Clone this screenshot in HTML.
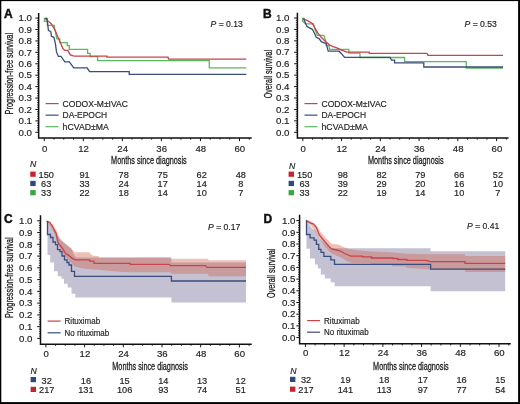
<!DOCTYPE html>
<html><head><meta charset="utf-8"><style>
html,body{margin:0;padding:0;background:#fff;}
svg{display:block;will-change:transform;font-family:'Liberation Sans', sans-serif;}
</style></head><body>
<svg width="520" height="404" viewBox="0 0 520 404">
<rect x="0" y="0" width="520" height="404" fill="#fff"/>
<line x1="35.35" y1="132.30" x2="38.65" y2="132.30" stroke="#111" stroke-width="1"/>
<line x1="37.05" y1="130.02" x2="38.65" y2="130.02" stroke="#111" stroke-width="0.8"/>
<line x1="37.05" y1="127.73" x2="38.65" y2="127.73" stroke="#111" stroke-width="0.8"/>
<line x1="37.05" y1="125.45" x2="38.65" y2="125.45" stroke="#111" stroke-width="0.8"/>
<line x1="37.05" y1="123.16" x2="38.65" y2="123.16" stroke="#111" stroke-width="0.8"/>
<line x1="35.35" y1="120.88" x2="38.65" y2="120.88" stroke="#111" stroke-width="1"/>
<line x1="37.05" y1="118.60" x2="38.65" y2="118.60" stroke="#111" stroke-width="0.8"/>
<line x1="37.05" y1="116.31" x2="38.65" y2="116.31" stroke="#111" stroke-width="0.8"/>
<line x1="37.05" y1="114.03" x2="38.65" y2="114.03" stroke="#111" stroke-width="0.8"/>
<line x1="37.05" y1="111.74" x2="38.65" y2="111.74" stroke="#111" stroke-width="0.8"/>
<line x1="35.35" y1="109.46" x2="38.65" y2="109.46" stroke="#111" stroke-width="1"/>
<line x1="37.05" y1="107.18" x2="38.65" y2="107.18" stroke="#111" stroke-width="0.8"/>
<line x1="37.05" y1="104.89" x2="38.65" y2="104.89" stroke="#111" stroke-width="0.8"/>
<line x1="37.05" y1="102.61" x2="38.65" y2="102.61" stroke="#111" stroke-width="0.8"/>
<line x1="37.05" y1="100.32" x2="38.65" y2="100.32" stroke="#111" stroke-width="0.8"/>
<line x1="35.35" y1="98.04" x2="38.65" y2="98.04" stroke="#111" stroke-width="1"/>
<line x1="37.05" y1="95.76" x2="38.65" y2="95.76" stroke="#111" stroke-width="0.8"/>
<line x1="37.05" y1="93.47" x2="38.65" y2="93.47" stroke="#111" stroke-width="0.8"/>
<line x1="37.05" y1="91.19" x2="38.65" y2="91.19" stroke="#111" stroke-width="0.8"/>
<line x1="37.05" y1="88.90" x2="38.65" y2="88.90" stroke="#111" stroke-width="0.8"/>
<line x1="35.35" y1="86.62" x2="38.65" y2="86.62" stroke="#111" stroke-width="1"/>
<line x1="37.05" y1="84.34" x2="38.65" y2="84.34" stroke="#111" stroke-width="0.8"/>
<line x1="37.05" y1="82.05" x2="38.65" y2="82.05" stroke="#111" stroke-width="0.8"/>
<line x1="37.05" y1="79.77" x2="38.65" y2="79.77" stroke="#111" stroke-width="0.8"/>
<line x1="37.05" y1="77.48" x2="38.65" y2="77.48" stroke="#111" stroke-width="0.8"/>
<line x1="35.35" y1="75.20" x2="38.65" y2="75.20" stroke="#111" stroke-width="1"/>
<line x1="37.05" y1="72.92" x2="38.65" y2="72.92" stroke="#111" stroke-width="0.8"/>
<line x1="37.05" y1="70.63" x2="38.65" y2="70.63" stroke="#111" stroke-width="0.8"/>
<line x1="37.05" y1="68.35" x2="38.65" y2="68.35" stroke="#111" stroke-width="0.8"/>
<line x1="37.05" y1="66.06" x2="38.65" y2="66.06" stroke="#111" stroke-width="0.8"/>
<line x1="35.35" y1="63.78" x2="38.65" y2="63.78" stroke="#111" stroke-width="1"/>
<line x1="37.05" y1="61.50" x2="38.65" y2="61.50" stroke="#111" stroke-width="0.8"/>
<line x1="37.05" y1="59.21" x2="38.65" y2="59.21" stroke="#111" stroke-width="0.8"/>
<line x1="37.05" y1="56.93" x2="38.65" y2="56.93" stroke="#111" stroke-width="0.8"/>
<line x1="37.05" y1="54.64" x2="38.65" y2="54.64" stroke="#111" stroke-width="0.8"/>
<line x1="35.35" y1="52.36" x2="38.65" y2="52.36" stroke="#111" stroke-width="1"/>
<line x1="37.05" y1="50.08" x2="38.65" y2="50.08" stroke="#111" stroke-width="0.8"/>
<line x1="37.05" y1="47.79" x2="38.65" y2="47.79" stroke="#111" stroke-width="0.8"/>
<line x1="37.05" y1="45.51" x2="38.65" y2="45.51" stroke="#111" stroke-width="0.8"/>
<line x1="37.05" y1="43.22" x2="38.65" y2="43.22" stroke="#111" stroke-width="0.8"/>
<line x1="35.35" y1="40.94" x2="38.65" y2="40.94" stroke="#111" stroke-width="1"/>
<line x1="37.05" y1="38.66" x2="38.65" y2="38.66" stroke="#111" stroke-width="0.8"/>
<line x1="37.05" y1="36.37" x2="38.65" y2="36.37" stroke="#111" stroke-width="0.8"/>
<line x1="37.05" y1="34.09" x2="38.65" y2="34.09" stroke="#111" stroke-width="0.8"/>
<line x1="37.05" y1="31.80" x2="38.65" y2="31.80" stroke="#111" stroke-width="0.8"/>
<line x1="35.35" y1="29.52" x2="38.65" y2="29.52" stroke="#111" stroke-width="1"/>
<line x1="37.05" y1="27.24" x2="38.65" y2="27.24" stroke="#111" stroke-width="0.8"/>
<line x1="37.05" y1="24.95" x2="38.65" y2="24.95" stroke="#111" stroke-width="0.8"/>
<line x1="37.05" y1="22.67" x2="38.65" y2="22.67" stroke="#111" stroke-width="0.8"/>
<line x1="37.05" y1="20.38" x2="38.65" y2="20.38" stroke="#111" stroke-width="0.8"/>
<line x1="35.35" y1="18.10" x2="38.65" y2="18.10" stroke="#111" stroke-width="1"/>
<text x="32.00" y="135.50" font-size="9.7" text-anchor="end" fill="#222" stroke="#2a2a2a" stroke-width="0.18">0.0</text>
<text x="32.00" y="124.08" font-size="9.7" text-anchor="end" fill="#222" stroke="#2a2a2a" stroke-width="0.18">0.1</text>
<text x="32.00" y="112.66" font-size="9.7" text-anchor="end" fill="#222" stroke="#2a2a2a" stroke-width="0.18">0.2</text>
<text x="32.00" y="101.24" font-size="9.7" text-anchor="end" fill="#222" stroke="#2a2a2a" stroke-width="0.18">0.3</text>
<text x="32.00" y="89.82" font-size="9.7" text-anchor="end" fill="#222" stroke="#2a2a2a" stroke-width="0.18">0.4</text>
<text x="32.00" y="78.40" font-size="9.7" text-anchor="end" fill="#222" stroke="#2a2a2a" stroke-width="0.18">0.5</text>
<text x="32.00" y="66.98" font-size="9.7" text-anchor="end" fill="#222" stroke="#2a2a2a" stroke-width="0.18">0.6</text>
<text x="32.00" y="55.56" font-size="9.7" text-anchor="end" fill="#222" stroke="#2a2a2a" stroke-width="0.18">0.7</text>
<text x="32.00" y="44.14" font-size="9.7" text-anchor="end" fill="#222" stroke="#2a2a2a" stroke-width="0.18">0.8</text>
<text x="32.00" y="32.72" font-size="9.7" text-anchor="end" fill="#222" stroke="#2a2a2a" stroke-width="0.18">0.9</text>
<text x="32.00" y="21.30" font-size="9.7" text-anchor="end" fill="#222" stroke="#2a2a2a" stroke-width="0.18">1.0</text>
<line x1="44.25" y1="138.0" x2="44.25" y2="141.10" stroke="#111" stroke-width="1"/>
<text x="44.55" y="151.50" font-size="9.6" text-anchor="middle" fill="#222" stroke="#2a2a2a" stroke-width="0.18">0</text>
<line x1="54.01" y1="138.0" x2="54.01" y2="139.70" stroke="#111" stroke-width="0.9"/>
<line x1="63.77" y1="138.0" x2="63.77" y2="139.70" stroke="#111" stroke-width="0.9"/>
<line x1="73.54" y1="138.0" x2="73.54" y2="139.70" stroke="#111" stroke-width="0.9"/>
<line x1="83.30" y1="138.0" x2="83.30" y2="141.10" stroke="#111" stroke-width="1"/>
<text x="83.60" y="151.50" font-size="9.6" text-anchor="middle" fill="#222" stroke="#2a2a2a" stroke-width="0.18">12</text>
<line x1="93.06" y1="138.0" x2="93.06" y2="139.70" stroke="#111" stroke-width="0.9"/>
<line x1="102.82" y1="138.0" x2="102.82" y2="139.70" stroke="#111" stroke-width="0.9"/>
<line x1="112.58" y1="138.0" x2="112.58" y2="139.70" stroke="#111" stroke-width="0.9"/>
<line x1="122.35" y1="138.0" x2="122.35" y2="141.10" stroke="#111" stroke-width="1"/>
<text x="122.65" y="151.50" font-size="9.6" text-anchor="middle" fill="#222" stroke="#2a2a2a" stroke-width="0.18">24</text>
<line x1="132.11" y1="138.0" x2="132.11" y2="139.70" stroke="#111" stroke-width="0.9"/>
<line x1="141.87" y1="138.0" x2="141.87" y2="139.70" stroke="#111" stroke-width="0.9"/>
<line x1="151.63" y1="138.0" x2="151.63" y2="139.70" stroke="#111" stroke-width="0.9"/>
<line x1="161.39" y1="138.0" x2="161.39" y2="141.10" stroke="#111" stroke-width="1"/>
<text x="161.69" y="151.50" font-size="9.6" text-anchor="middle" fill="#222" stroke="#2a2a2a" stroke-width="0.18">36</text>
<line x1="171.16" y1="138.0" x2="171.16" y2="139.70" stroke="#111" stroke-width="0.9"/>
<line x1="180.92" y1="138.0" x2="180.92" y2="139.70" stroke="#111" stroke-width="0.9"/>
<line x1="190.68" y1="138.0" x2="190.68" y2="139.70" stroke="#111" stroke-width="0.9"/>
<line x1="200.44" y1="138.0" x2="200.44" y2="141.10" stroke="#111" stroke-width="1"/>
<text x="200.74" y="151.50" font-size="9.6" text-anchor="middle" fill="#222" stroke="#2a2a2a" stroke-width="0.18">48</text>
<line x1="210.20" y1="138.0" x2="210.20" y2="139.70" stroke="#111" stroke-width="0.9"/>
<line x1="219.97" y1="138.0" x2="219.97" y2="139.70" stroke="#111" stroke-width="0.9"/>
<line x1="229.73" y1="138.0" x2="229.73" y2="139.70" stroke="#111" stroke-width="0.9"/>
<line x1="239.49" y1="138.0" x2="239.49" y2="141.10" stroke="#111" stroke-width="1"/>
<text x="239.79" y="151.50" font-size="9.6" text-anchor="middle" fill="#222" stroke="#2a2a2a" stroke-width="0.18">60</text>
<line x1="249.25" y1="138.0" x2="249.25" y2="139.70" stroke="#111" stroke-width="0.9"/>
<path d="M38.65,13 V138.0 H251.7" fill="none" stroke="#111" stroke-width="1.5"/>
<text x="4.1" y="17.6" font-size="12" font-weight="bold" fill="#111" stroke="#111" stroke-width="0.45">A</text>
<text x="210.5" y="26.6" font-size="8.7" textLength="32.3" lengthAdjust="spacingAndGlyphs" fill="#222" stroke="#2a2a2a" stroke-width="0.18"><tspan font-style="italic">P</tspan> <tspan fill="#555" stroke="#666" stroke-width="0.5">=</tspan> 0.13</text>
<text x="111.1" y="163.9" font-size="11" textLength="75.6" lengthAdjust="spacingAndGlyphs" fill="#222" stroke="#1a1a1a" stroke-width="0.3">Months since diagnosis</text>
<text transform="translate(13,114.4) rotate(-90)" x="0" y="0" font-size="10.8" textLength="81.5" lengthAdjust="spacingAndGlyphs" fill="#222" stroke="#1a1a1a" stroke-width="0.3">Progression-free survival</text>
<polyline points="46.50,18.50 44.50,18.50 44.50,21.40 47.40,21.40 47.40,25.40 54.40,25.40 54.40,27.40 56.90,38.80 59.80,38.80 59.80,42.70 67.20,42.70 67.20,45.70 69.30,45.70 69.30,49.40 87.60,49.40 87.60,53.40 90.10,53.40 90.10,56.60 97.70,56.60 97.70,60.60 209.30,60.60 209.30,67.80 246.30,67.80" fill="none" stroke="#5cb85c" stroke-width="1.3" stroke-linejoin="miter"/>
<polyline points="45.50,18.50 47.40,20.40 51.40,23.90 54.90,29.80 59.30,40.20 62.90,48.50 64.90,50.40 67.80,50.40 70.30,54.90 73.30,55.90 74.30,56.20 106.90,56.20 106.90,57.10 168.00,57.10 168.50,59.20 246.30,59.20" fill="none" stroke="#c8434a" stroke-width="1.3" stroke-linejoin="miter"/>
<polyline points="45.20,18.50 47.00,18.50 48.40,30.30 50.90,31.80 51.40,36.30 53.90,37.30 55.40,43.70 56.50,51.90 58.40,56.40 60.90,56.40 64.90,61.80 69.30,61.80 73.80,67.80 87.10,67.80 89.60,71.70 129.20,71.70 129.20,74.30 246.30,74.30" fill="none" stroke="#3a4c7c" stroke-width="1.3" stroke-linejoin="miter"/>
<line x1="45.6" y1="103.6" x2="58.6" y2="103.6" stroke="#c8434a" stroke-width="1.2"/>
<text x="62.6" y="106.69999999999999" font-size="8.7" textLength="65.3" lengthAdjust="spacingAndGlyphs" fill="#222" stroke="#2a2a2a" stroke-width="0.18">CODOX-M±IVAC</text>
<line x1="45.6" y1="115.14999999999999" x2="58.6" y2="115.14999999999999" stroke="#3a4c7c" stroke-width="1.2"/>
<text x="62.6" y="118.24999999999999" font-size="8.7" textLength="44.5" lengthAdjust="spacingAndGlyphs" fill="#222" stroke="#2a2a2a" stroke-width="0.18">DA-EPOCH</text>
<line x1="45.6" y1="126.69999999999999" x2="58.6" y2="126.69999999999999" stroke="#5cb85c" stroke-width="1.2"/>
<text x="62.6" y="129.79999999999998" font-size="8.7" textLength="46.3" lengthAdjust="spacingAndGlyphs" fill="#222" stroke="#2a2a2a" stroke-width="0.18">hCVAD±MA</text>
<text x="29.9" y="167.4" font-size="8.7" font-style="italic" fill="#222" stroke="#2a2a2a" stroke-width="0.18">N</text>
<rect x="30.25" y="171.60" width="5.4" height="5.2" fill="#c8222c"/>
<text x="46.20" y="177.50" font-size="9.2" text-anchor="middle" fill="#222" stroke="#2a2a2a" stroke-width="0.18">150</text>
<text x="84.60" y="177.50" font-size="9.2" text-anchor="middle" fill="#222" stroke="#2a2a2a" stroke-width="0.18">91</text>
<text x="123.65" y="177.50" font-size="9.2" text-anchor="middle" fill="#222" stroke="#2a2a2a" stroke-width="0.18">78</text>
<text x="162.69" y="177.50" font-size="9.2" text-anchor="middle" fill="#222" stroke="#2a2a2a" stroke-width="0.18">75</text>
<text x="201.74" y="177.50" font-size="9.2" text-anchor="middle" fill="#222" stroke="#2a2a2a" stroke-width="0.18">62</text>
<text x="240.79" y="177.50" font-size="9.2" text-anchor="middle" fill="#222" stroke="#2a2a2a" stroke-width="0.18">48</text>
<rect x="30.25" y="180.85" width="5.4" height="5.2" fill="#2b4a80"/>
<text x="46.20" y="186.75" font-size="9.2" text-anchor="middle" fill="#222" stroke="#2a2a2a" stroke-width="0.18">63</text>
<text x="84.60" y="186.75" font-size="9.2" text-anchor="middle" fill="#222" stroke="#2a2a2a" stroke-width="0.18">33</text>
<text x="123.65" y="186.75" font-size="9.2" text-anchor="middle" fill="#222" stroke="#2a2a2a" stroke-width="0.18">24</text>
<text x="162.69" y="186.75" font-size="9.2" text-anchor="middle" fill="#222" stroke="#2a2a2a" stroke-width="0.18">17</text>
<text x="201.74" y="186.75" font-size="9.2" text-anchor="middle" fill="#222" stroke="#2a2a2a" stroke-width="0.18">14</text>
<text x="240.79" y="186.75" font-size="9.2" text-anchor="middle" fill="#222" stroke="#2a2a2a" stroke-width="0.18">8</text>
<rect x="30.25" y="190.10" width="5.4" height="5.2" fill="#3aa63f"/>
<text x="46.20" y="196.00" font-size="9.2" text-anchor="middle" fill="#222" stroke="#2a2a2a" stroke-width="0.18">33</text>
<text x="84.60" y="196.00" font-size="9.2" text-anchor="middle" fill="#222" stroke="#2a2a2a" stroke-width="0.18">22</text>
<text x="123.65" y="196.00" font-size="9.2" text-anchor="middle" fill="#222" stroke="#2a2a2a" stroke-width="0.18">18</text>
<text x="162.69" y="196.00" font-size="9.2" text-anchor="middle" fill="#222" stroke="#2a2a2a" stroke-width="0.18">14</text>
<text x="201.74" y="196.00" font-size="9.2" text-anchor="middle" fill="#222" stroke="#2a2a2a" stroke-width="0.18">10</text>
<text x="240.79" y="196.00" font-size="9.2" text-anchor="middle" fill="#222" stroke="#2a2a2a" stroke-width="0.18">7</text>
<line x1="294.10" y1="132.30" x2="297.4" y2="132.30" stroke="#111" stroke-width="1"/>
<line x1="295.80" y1="130.01" x2="297.4" y2="130.01" stroke="#111" stroke-width="0.8"/>
<line x1="295.80" y1="127.73" x2="297.4" y2="127.73" stroke="#111" stroke-width="0.8"/>
<line x1="295.80" y1="125.44" x2="297.4" y2="125.44" stroke="#111" stroke-width="0.8"/>
<line x1="295.80" y1="123.16" x2="297.4" y2="123.16" stroke="#111" stroke-width="0.8"/>
<line x1="294.10" y1="120.87" x2="297.4" y2="120.87" stroke="#111" stroke-width="1"/>
<line x1="295.80" y1="118.58" x2="297.4" y2="118.58" stroke="#111" stroke-width="0.8"/>
<line x1="295.80" y1="116.30" x2="297.4" y2="116.30" stroke="#111" stroke-width="0.8"/>
<line x1="295.80" y1="114.01" x2="297.4" y2="114.01" stroke="#111" stroke-width="0.8"/>
<line x1="295.80" y1="111.73" x2="297.4" y2="111.73" stroke="#111" stroke-width="0.8"/>
<line x1="294.10" y1="109.44" x2="297.4" y2="109.44" stroke="#111" stroke-width="1"/>
<line x1="295.80" y1="107.15" x2="297.4" y2="107.15" stroke="#111" stroke-width="0.8"/>
<line x1="295.80" y1="104.87" x2="297.4" y2="104.87" stroke="#111" stroke-width="0.8"/>
<line x1="295.80" y1="102.58" x2="297.4" y2="102.58" stroke="#111" stroke-width="0.8"/>
<line x1="295.80" y1="100.30" x2="297.4" y2="100.30" stroke="#111" stroke-width="0.8"/>
<line x1="294.10" y1="98.01" x2="297.4" y2="98.01" stroke="#111" stroke-width="1"/>
<line x1="295.80" y1="95.72" x2="297.4" y2="95.72" stroke="#111" stroke-width="0.8"/>
<line x1="295.80" y1="93.44" x2="297.4" y2="93.44" stroke="#111" stroke-width="0.8"/>
<line x1="295.80" y1="91.15" x2="297.4" y2="91.15" stroke="#111" stroke-width="0.8"/>
<line x1="295.80" y1="88.87" x2="297.4" y2="88.87" stroke="#111" stroke-width="0.8"/>
<line x1="294.10" y1="86.58" x2="297.4" y2="86.58" stroke="#111" stroke-width="1"/>
<line x1="295.80" y1="84.29" x2="297.4" y2="84.29" stroke="#111" stroke-width="0.8"/>
<line x1="295.80" y1="82.01" x2="297.4" y2="82.01" stroke="#111" stroke-width="0.8"/>
<line x1="295.80" y1="79.72" x2="297.4" y2="79.72" stroke="#111" stroke-width="0.8"/>
<line x1="295.80" y1="77.44" x2="297.4" y2="77.44" stroke="#111" stroke-width="0.8"/>
<line x1="294.10" y1="75.15" x2="297.4" y2="75.15" stroke="#111" stroke-width="1"/>
<line x1="295.80" y1="72.86" x2="297.4" y2="72.86" stroke="#111" stroke-width="0.8"/>
<line x1="295.80" y1="70.58" x2="297.4" y2="70.58" stroke="#111" stroke-width="0.8"/>
<line x1="295.80" y1="68.29" x2="297.4" y2="68.29" stroke="#111" stroke-width="0.8"/>
<line x1="295.80" y1="66.01" x2="297.4" y2="66.01" stroke="#111" stroke-width="0.8"/>
<line x1="294.10" y1="63.72" x2="297.4" y2="63.72" stroke="#111" stroke-width="1"/>
<line x1="295.80" y1="61.43" x2="297.4" y2="61.43" stroke="#111" stroke-width="0.8"/>
<line x1="295.80" y1="59.15" x2="297.4" y2="59.15" stroke="#111" stroke-width="0.8"/>
<line x1="295.80" y1="56.86" x2="297.4" y2="56.86" stroke="#111" stroke-width="0.8"/>
<line x1="295.80" y1="54.58" x2="297.4" y2="54.58" stroke="#111" stroke-width="0.8"/>
<line x1="294.10" y1="52.29" x2="297.4" y2="52.29" stroke="#111" stroke-width="1"/>
<line x1="295.80" y1="50.00" x2="297.4" y2="50.00" stroke="#111" stroke-width="0.8"/>
<line x1="295.80" y1="47.72" x2="297.4" y2="47.72" stroke="#111" stroke-width="0.8"/>
<line x1="295.80" y1="45.43" x2="297.4" y2="45.43" stroke="#111" stroke-width="0.8"/>
<line x1="295.80" y1="43.15" x2="297.4" y2="43.15" stroke="#111" stroke-width="0.8"/>
<line x1="294.10" y1="40.86" x2="297.4" y2="40.86" stroke="#111" stroke-width="1"/>
<line x1="295.80" y1="38.57" x2="297.4" y2="38.57" stroke="#111" stroke-width="0.8"/>
<line x1="295.80" y1="36.29" x2="297.4" y2="36.29" stroke="#111" stroke-width="0.8"/>
<line x1="295.80" y1="34.00" x2="297.4" y2="34.00" stroke="#111" stroke-width="0.8"/>
<line x1="295.80" y1="31.72" x2="297.4" y2="31.72" stroke="#111" stroke-width="0.8"/>
<line x1="294.10" y1="29.43" x2="297.4" y2="29.43" stroke="#111" stroke-width="1"/>
<line x1="295.80" y1="27.14" x2="297.4" y2="27.14" stroke="#111" stroke-width="0.8"/>
<line x1="295.80" y1="24.86" x2="297.4" y2="24.86" stroke="#111" stroke-width="0.8"/>
<line x1="295.80" y1="22.57" x2="297.4" y2="22.57" stroke="#111" stroke-width="0.8"/>
<line x1="295.80" y1="20.29" x2="297.4" y2="20.29" stroke="#111" stroke-width="0.8"/>
<line x1="294.10" y1="18.00" x2="297.4" y2="18.00" stroke="#111" stroke-width="1"/>
<text x="289.50" y="135.50" font-size="9.7" text-anchor="end" fill="#222" stroke="#2a2a2a" stroke-width="0.18">0.0</text>
<text x="289.50" y="124.07" font-size="9.7" text-anchor="end" fill="#222" stroke="#2a2a2a" stroke-width="0.18">0.1</text>
<text x="289.50" y="112.64" font-size="9.7" text-anchor="end" fill="#222" stroke="#2a2a2a" stroke-width="0.18">0.2</text>
<text x="289.50" y="101.21" font-size="9.7" text-anchor="end" fill="#222" stroke="#2a2a2a" stroke-width="0.18">0.3</text>
<text x="289.50" y="89.78" font-size="9.7" text-anchor="end" fill="#222" stroke="#2a2a2a" stroke-width="0.18">0.4</text>
<text x="289.50" y="78.35" font-size="9.7" text-anchor="end" fill="#222" stroke="#2a2a2a" stroke-width="0.18">0.5</text>
<text x="289.50" y="66.92" font-size="9.7" text-anchor="end" fill="#222" stroke="#2a2a2a" stroke-width="0.18">0.6</text>
<text x="289.50" y="55.49" font-size="9.7" text-anchor="end" fill="#222" stroke="#2a2a2a" stroke-width="0.18">0.7</text>
<text x="289.50" y="44.06" font-size="9.7" text-anchor="end" fill="#222" stroke="#2a2a2a" stroke-width="0.18">0.8</text>
<text x="289.50" y="32.63" font-size="9.7" text-anchor="end" fill="#222" stroke="#2a2a2a" stroke-width="0.18">0.9</text>
<text x="289.50" y="21.20" font-size="9.7" text-anchor="end" fill="#222" stroke="#2a2a2a" stroke-width="0.18">1.0</text>
<line x1="302.80" y1="138.0" x2="302.80" y2="141.10" stroke="#111" stroke-width="1"/>
<text x="303.10" y="151.60" font-size="9.6" text-anchor="middle" fill="#222" stroke="#2a2a2a" stroke-width="0.18">0</text>
<line x1="312.49" y1="138.0" x2="312.49" y2="139.70" stroke="#111" stroke-width="0.9"/>
<line x1="322.18" y1="138.0" x2="322.18" y2="139.70" stroke="#111" stroke-width="0.9"/>
<line x1="331.87" y1="138.0" x2="331.87" y2="139.70" stroke="#111" stroke-width="0.9"/>
<line x1="341.56" y1="138.0" x2="341.56" y2="141.10" stroke="#111" stroke-width="1"/>
<text x="341.86" y="151.60" font-size="9.6" text-anchor="middle" fill="#222" stroke="#2a2a2a" stroke-width="0.18">12</text>
<line x1="351.25" y1="138.0" x2="351.25" y2="139.70" stroke="#111" stroke-width="0.9"/>
<line x1="360.94" y1="138.0" x2="360.94" y2="139.70" stroke="#111" stroke-width="0.9"/>
<line x1="370.63" y1="138.0" x2="370.63" y2="139.70" stroke="#111" stroke-width="0.9"/>
<line x1="380.32" y1="138.0" x2="380.32" y2="141.10" stroke="#111" stroke-width="1"/>
<text x="380.62" y="151.60" font-size="9.6" text-anchor="middle" fill="#222" stroke="#2a2a2a" stroke-width="0.18">24</text>
<line x1="390.01" y1="138.0" x2="390.01" y2="139.70" stroke="#111" stroke-width="0.9"/>
<line x1="399.70" y1="138.0" x2="399.70" y2="139.70" stroke="#111" stroke-width="0.9"/>
<line x1="409.39" y1="138.0" x2="409.39" y2="139.70" stroke="#111" stroke-width="0.9"/>
<line x1="419.08" y1="138.0" x2="419.08" y2="141.10" stroke="#111" stroke-width="1"/>
<text x="419.38" y="151.60" font-size="9.6" text-anchor="middle" fill="#222" stroke="#2a2a2a" stroke-width="0.18">36</text>
<line x1="428.77" y1="138.0" x2="428.77" y2="139.70" stroke="#111" stroke-width="0.9"/>
<line x1="438.46" y1="138.0" x2="438.46" y2="139.70" stroke="#111" stroke-width="0.9"/>
<line x1="448.15" y1="138.0" x2="448.15" y2="139.70" stroke="#111" stroke-width="0.9"/>
<line x1="457.84" y1="138.0" x2="457.84" y2="141.10" stroke="#111" stroke-width="1"/>
<text x="458.14" y="151.60" font-size="9.6" text-anchor="middle" fill="#222" stroke="#2a2a2a" stroke-width="0.18">48</text>
<line x1="467.53" y1="138.0" x2="467.53" y2="139.70" stroke="#111" stroke-width="0.9"/>
<line x1="477.22" y1="138.0" x2="477.22" y2="139.70" stroke="#111" stroke-width="0.9"/>
<line x1="486.91" y1="138.0" x2="486.91" y2="139.70" stroke="#111" stroke-width="0.9"/>
<line x1="496.60" y1="138.0" x2="496.60" y2="141.10" stroke="#111" stroke-width="1"/>
<text x="496.90" y="151.60" font-size="9.6" text-anchor="middle" fill="#222" stroke="#2a2a2a" stroke-width="0.18">60</text>
<line x1="506.29" y1="138.0" x2="506.29" y2="139.70" stroke="#111" stroke-width="0.9"/>
<path d="M297.4,12.8 V138.0 H508.5" fill="none" stroke="#111" stroke-width="1.5"/>
<text x="262.9" y="17.6" font-size="12" font-weight="bold" fill="#111" stroke="#111" stroke-width="0.45">B</text>
<text x="464.5" y="26.9" font-size="8.7" textLength="32.3" lengthAdjust="spacingAndGlyphs" fill="#222" stroke="#2a2a2a" stroke-width="0.18"><tspan font-style="italic">P</tspan> <tspan fill="#555" stroke="#666" stroke-width="0.5">=</tspan> 0.53</text>
<text x="368" y="163.9" font-size="11" textLength="75.6" lengthAdjust="spacingAndGlyphs" fill="#222" stroke="#1a1a1a" stroke-width="0.3">Months since diagnosis</text>
<text transform="translate(272,98.3) rotate(-90)" x="0" y="0" font-size="10.8" textLength="48.3" lengthAdjust="spacingAndGlyphs" fill="#222" stroke="#1a1a1a" stroke-width="0.3">Overall survival</text>
<polyline points="304.50,18.50 302.50,18.50 302.50,20.90 305.40,23.90 313.40,23.90 314.90,29.30 317.30,35.30 323.80,35.30 325.70,40.70 326.20,45.70 328.70,45.70 329.70,49.40 348.80,49.40 348.80,53.20 360.00,53.20 360.00,57.50 404.60,57.50 404.60,61.60 466.30,61.60 466.30,68.00 503.00,68.00" fill="none" stroke="#5cb85c" stroke-width="1.3" stroke-linejoin="miter"/>
<polyline points="303.00,18.50 306.90,20.40 312.40,23.40 314.90,27.90 317.80,32.80 321.30,37.30 325.70,41.70 329.70,45.10 333.10,46.60 336.90,47.80 341.50,50.20 346.90,52.20 369.20,52.20 369.20,53.30 427.00,53.30 428.00,55.30 503.00,55.30" fill="none" stroke="#c8434a" stroke-width="1.3" stroke-linejoin="miter"/>
<polyline points="303.50,18.50 306.90,26.40 309.40,27.90 312.40,29.30 314.90,34.30 316.30,37.30 319.30,38.80 321.30,41.70 326.20,43.70 328.20,51.20 339.20,51.20 341.50,53.70 344.60,57.40 390.00,57.40 391.50,60.20 394.60,60.20 394.60,62.80 423.80,62.80 423.80,67.00 503.00,67.00" fill="none" stroke="#3a4c7c" stroke-width="1.3" stroke-linejoin="miter"/>
<line x1="304.5" y1="103.6" x2="317.5" y2="103.6" stroke="#c8434a" stroke-width="1.2"/>
<text x="321.5" y="106.69999999999999" font-size="8.7" textLength="65.3" lengthAdjust="spacingAndGlyphs" fill="#222" stroke="#2a2a2a" stroke-width="0.18">CODOX-M±IVAC</text>
<line x1="304.5" y1="115.14999999999999" x2="317.5" y2="115.14999999999999" stroke="#3a4c7c" stroke-width="1.2"/>
<text x="321.5" y="118.24999999999999" font-size="8.7" textLength="44.5" lengthAdjust="spacingAndGlyphs" fill="#222" stroke="#2a2a2a" stroke-width="0.18">DA-EPOCH</text>
<line x1="304.5" y1="126.69999999999999" x2="317.5" y2="126.69999999999999" stroke="#5cb85c" stroke-width="1.2"/>
<text x="321.5" y="129.79999999999998" font-size="8.7" textLength="46.3" lengthAdjust="spacingAndGlyphs" fill="#222" stroke="#2a2a2a" stroke-width="0.18">hCVAD±MA</text>
<text x="288.9" y="168.5" font-size="8.7" font-style="italic" fill="#222" stroke="#2a2a2a" stroke-width="0.18">N</text>
<rect x="288.60" y="171.60" width="5.4" height="5.2" fill="#c8222c"/>
<text x="304.60" y="177.50" font-size="9.2" text-anchor="middle" fill="#222" stroke="#2a2a2a" stroke-width="0.18">150</text>
<text x="342.86" y="177.50" font-size="9.2" text-anchor="middle" fill="#222" stroke="#2a2a2a" stroke-width="0.18">98</text>
<text x="381.62" y="177.50" font-size="9.2" text-anchor="middle" fill="#222" stroke="#2a2a2a" stroke-width="0.18">82</text>
<text x="420.38" y="177.50" font-size="9.2" text-anchor="middle" fill="#222" stroke="#2a2a2a" stroke-width="0.18">79</text>
<text x="459.14" y="177.50" font-size="9.2" text-anchor="middle" fill="#222" stroke="#2a2a2a" stroke-width="0.18">66</text>
<text x="497.90" y="177.50" font-size="9.2" text-anchor="middle" fill="#222" stroke="#2a2a2a" stroke-width="0.18">52</text>
<rect x="288.60" y="180.85" width="5.4" height="5.2" fill="#2b4a80"/>
<text x="304.60" y="186.75" font-size="9.2" text-anchor="middle" fill="#222" stroke="#2a2a2a" stroke-width="0.18">63</text>
<text x="342.86" y="186.75" font-size="9.2" text-anchor="middle" fill="#222" stroke="#2a2a2a" stroke-width="0.18">39</text>
<text x="381.62" y="186.75" font-size="9.2" text-anchor="middle" fill="#222" stroke="#2a2a2a" stroke-width="0.18">29</text>
<text x="420.38" y="186.75" font-size="9.2" text-anchor="middle" fill="#222" stroke="#2a2a2a" stroke-width="0.18">20</text>
<text x="459.14" y="186.75" font-size="9.2" text-anchor="middle" fill="#222" stroke="#2a2a2a" stroke-width="0.18">16</text>
<text x="497.90" y="186.75" font-size="9.2" text-anchor="middle" fill="#222" stroke="#2a2a2a" stroke-width="0.18">10</text>
<rect x="288.60" y="190.10" width="5.4" height="5.2" fill="#3aa63f"/>
<text x="304.60" y="196.00" font-size="9.2" text-anchor="middle" fill="#222" stroke="#2a2a2a" stroke-width="0.18">33</text>
<text x="342.86" y="196.00" font-size="9.2" text-anchor="middle" fill="#222" stroke="#2a2a2a" stroke-width="0.18">22</text>
<text x="381.62" y="196.00" font-size="9.2" text-anchor="middle" fill="#222" stroke="#2a2a2a" stroke-width="0.18">19</text>
<text x="420.38" y="196.00" font-size="9.2" text-anchor="middle" fill="#222" stroke="#2a2a2a" stroke-width="0.18">14</text>
<text x="459.14" y="196.00" font-size="9.2" text-anchor="middle" fill="#222" stroke="#2a2a2a" stroke-width="0.18">10</text>
<text x="497.90" y="196.00" font-size="9.2" text-anchor="middle" fill="#222" stroke="#2a2a2a" stroke-width="0.18">7</text>
<line x1="37.20" y1="338.40" x2="40.5" y2="338.40" stroke="#111" stroke-width="1"/>
<line x1="38.90" y1="336.05" x2="40.5" y2="336.05" stroke="#111" stroke-width="0.8"/>
<line x1="38.90" y1="333.70" x2="40.5" y2="333.70" stroke="#111" stroke-width="0.8"/>
<line x1="38.90" y1="331.34" x2="40.5" y2="331.34" stroke="#111" stroke-width="0.8"/>
<line x1="38.90" y1="328.99" x2="40.5" y2="328.99" stroke="#111" stroke-width="0.8"/>
<line x1="37.20" y1="326.64" x2="40.5" y2="326.64" stroke="#111" stroke-width="1"/>
<line x1="38.90" y1="324.29" x2="40.5" y2="324.29" stroke="#111" stroke-width="0.8"/>
<line x1="38.90" y1="321.94" x2="40.5" y2="321.94" stroke="#111" stroke-width="0.8"/>
<line x1="38.90" y1="319.58" x2="40.5" y2="319.58" stroke="#111" stroke-width="0.8"/>
<line x1="38.90" y1="317.23" x2="40.5" y2="317.23" stroke="#111" stroke-width="0.8"/>
<line x1="37.20" y1="314.88" x2="40.5" y2="314.88" stroke="#111" stroke-width="1"/>
<line x1="38.90" y1="312.53" x2="40.5" y2="312.53" stroke="#111" stroke-width="0.8"/>
<line x1="38.90" y1="310.18" x2="40.5" y2="310.18" stroke="#111" stroke-width="0.8"/>
<line x1="38.90" y1="307.82" x2="40.5" y2="307.82" stroke="#111" stroke-width="0.8"/>
<line x1="38.90" y1="305.47" x2="40.5" y2="305.47" stroke="#111" stroke-width="0.8"/>
<line x1="37.20" y1="303.12" x2="40.5" y2="303.12" stroke="#111" stroke-width="1"/>
<line x1="38.90" y1="300.77" x2="40.5" y2="300.77" stroke="#111" stroke-width="0.8"/>
<line x1="38.90" y1="298.42" x2="40.5" y2="298.42" stroke="#111" stroke-width="0.8"/>
<line x1="38.90" y1="296.06" x2="40.5" y2="296.06" stroke="#111" stroke-width="0.8"/>
<line x1="38.90" y1="293.71" x2="40.5" y2="293.71" stroke="#111" stroke-width="0.8"/>
<line x1="37.20" y1="291.36" x2="40.5" y2="291.36" stroke="#111" stroke-width="1"/>
<line x1="38.90" y1="289.01" x2="40.5" y2="289.01" stroke="#111" stroke-width="0.8"/>
<line x1="38.90" y1="286.66" x2="40.5" y2="286.66" stroke="#111" stroke-width="0.8"/>
<line x1="38.90" y1="284.30" x2="40.5" y2="284.30" stroke="#111" stroke-width="0.8"/>
<line x1="38.90" y1="281.95" x2="40.5" y2="281.95" stroke="#111" stroke-width="0.8"/>
<line x1="37.20" y1="279.60" x2="40.5" y2="279.60" stroke="#111" stroke-width="1"/>
<line x1="38.90" y1="277.25" x2="40.5" y2="277.25" stroke="#111" stroke-width="0.8"/>
<line x1="38.90" y1="274.90" x2="40.5" y2="274.90" stroke="#111" stroke-width="0.8"/>
<line x1="38.90" y1="272.54" x2="40.5" y2="272.54" stroke="#111" stroke-width="0.8"/>
<line x1="38.90" y1="270.19" x2="40.5" y2="270.19" stroke="#111" stroke-width="0.8"/>
<line x1="37.20" y1="267.84" x2="40.5" y2="267.84" stroke="#111" stroke-width="1"/>
<line x1="38.90" y1="265.49" x2="40.5" y2="265.49" stroke="#111" stroke-width="0.8"/>
<line x1="38.90" y1="263.14" x2="40.5" y2="263.14" stroke="#111" stroke-width="0.8"/>
<line x1="38.90" y1="260.78" x2="40.5" y2="260.78" stroke="#111" stroke-width="0.8"/>
<line x1="38.90" y1="258.43" x2="40.5" y2="258.43" stroke="#111" stroke-width="0.8"/>
<line x1="37.20" y1="256.08" x2="40.5" y2="256.08" stroke="#111" stroke-width="1"/>
<line x1="38.90" y1="253.73" x2="40.5" y2="253.73" stroke="#111" stroke-width="0.8"/>
<line x1="38.90" y1="251.38" x2="40.5" y2="251.38" stroke="#111" stroke-width="0.8"/>
<line x1="38.90" y1="249.02" x2="40.5" y2="249.02" stroke="#111" stroke-width="0.8"/>
<line x1="38.90" y1="246.67" x2="40.5" y2="246.67" stroke="#111" stroke-width="0.8"/>
<line x1="37.20" y1="244.32" x2="40.5" y2="244.32" stroke="#111" stroke-width="1"/>
<line x1="38.90" y1="241.97" x2="40.5" y2="241.97" stroke="#111" stroke-width="0.8"/>
<line x1="38.90" y1="239.62" x2="40.5" y2="239.62" stroke="#111" stroke-width="0.8"/>
<line x1="38.90" y1="237.26" x2="40.5" y2="237.26" stroke="#111" stroke-width="0.8"/>
<line x1="38.90" y1="234.91" x2="40.5" y2="234.91" stroke="#111" stroke-width="0.8"/>
<line x1="37.20" y1="232.56" x2="40.5" y2="232.56" stroke="#111" stroke-width="1"/>
<line x1="38.90" y1="230.21" x2="40.5" y2="230.21" stroke="#111" stroke-width="0.8"/>
<line x1="38.90" y1="227.86" x2="40.5" y2="227.86" stroke="#111" stroke-width="0.8"/>
<line x1="38.90" y1="225.50" x2="40.5" y2="225.50" stroke="#111" stroke-width="0.8"/>
<line x1="38.90" y1="223.15" x2="40.5" y2="223.15" stroke="#111" stroke-width="0.8"/>
<line x1="37.20" y1="220.80" x2="40.5" y2="220.80" stroke="#111" stroke-width="1"/>
<text x="32.50" y="341.60" font-size="9.7" text-anchor="end" fill="#222" stroke="#2a2a2a" stroke-width="0.18">0.0</text>
<text x="32.50" y="329.84" font-size="9.7" text-anchor="end" fill="#222" stroke="#2a2a2a" stroke-width="0.18">0.1</text>
<text x="32.50" y="318.08" font-size="9.7" text-anchor="end" fill="#222" stroke="#2a2a2a" stroke-width="0.18">0.2</text>
<text x="32.50" y="306.32" font-size="9.7" text-anchor="end" fill="#222" stroke="#2a2a2a" stroke-width="0.18">0.3</text>
<text x="32.50" y="294.56" font-size="9.7" text-anchor="end" fill="#222" stroke="#2a2a2a" stroke-width="0.18">0.4</text>
<text x="32.50" y="282.80" font-size="9.7" text-anchor="end" fill="#222" stroke="#2a2a2a" stroke-width="0.18">0.5</text>
<text x="32.50" y="271.04" font-size="9.7" text-anchor="end" fill="#222" stroke="#2a2a2a" stroke-width="0.18">0.6</text>
<text x="32.50" y="259.28" font-size="9.7" text-anchor="end" fill="#222" stroke="#2a2a2a" stroke-width="0.18">0.7</text>
<text x="32.50" y="247.52" font-size="9.7" text-anchor="end" fill="#222" stroke="#2a2a2a" stroke-width="0.18">0.8</text>
<text x="32.50" y="235.76" font-size="9.7" text-anchor="end" fill="#222" stroke="#2a2a2a" stroke-width="0.18">0.9</text>
<text x="32.50" y="224.00" font-size="9.7" text-anchor="end" fill="#222" stroke="#2a2a2a" stroke-width="0.18">1.0</text>
<line x1="45.90" y1="344.2" x2="45.90" y2="347.30" stroke="#111" stroke-width="1"/>
<text x="46.20" y="357.30" font-size="9.6" text-anchor="middle" fill="#222" stroke="#2a2a2a" stroke-width="0.18">0</text>
<line x1="55.58" y1="344.2" x2="55.58" y2="345.90" stroke="#111" stroke-width="0.9"/>
<line x1="65.25" y1="344.2" x2="65.25" y2="345.90" stroke="#111" stroke-width="0.9"/>
<line x1="74.92" y1="344.2" x2="74.92" y2="345.90" stroke="#111" stroke-width="0.9"/>
<line x1="84.60" y1="344.2" x2="84.60" y2="347.30" stroke="#111" stroke-width="1"/>
<text x="84.90" y="357.30" font-size="9.6" text-anchor="middle" fill="#222" stroke="#2a2a2a" stroke-width="0.18">12</text>
<line x1="94.28" y1="344.2" x2="94.28" y2="345.90" stroke="#111" stroke-width="0.9"/>
<line x1="103.95" y1="344.2" x2="103.95" y2="345.90" stroke="#111" stroke-width="0.9"/>
<line x1="113.62" y1="344.2" x2="113.62" y2="345.90" stroke="#111" stroke-width="0.9"/>
<line x1="123.30" y1="344.2" x2="123.30" y2="347.30" stroke="#111" stroke-width="1"/>
<text x="123.60" y="357.30" font-size="9.6" text-anchor="middle" fill="#222" stroke="#2a2a2a" stroke-width="0.18">24</text>
<line x1="132.97" y1="344.2" x2="132.97" y2="345.90" stroke="#111" stroke-width="0.9"/>
<line x1="142.65" y1="344.2" x2="142.65" y2="345.90" stroke="#111" stroke-width="0.9"/>
<line x1="152.32" y1="344.2" x2="152.32" y2="345.90" stroke="#111" stroke-width="0.9"/>
<line x1="162.00" y1="344.2" x2="162.00" y2="347.30" stroke="#111" stroke-width="1"/>
<text x="162.30" y="357.30" font-size="9.6" text-anchor="middle" fill="#222" stroke="#2a2a2a" stroke-width="0.18">36</text>
<line x1="171.68" y1="344.2" x2="171.68" y2="345.90" stroke="#111" stroke-width="0.9"/>
<line x1="181.35" y1="344.2" x2="181.35" y2="345.90" stroke="#111" stroke-width="0.9"/>
<line x1="191.03" y1="344.2" x2="191.03" y2="345.90" stroke="#111" stroke-width="0.9"/>
<line x1="200.70" y1="344.2" x2="200.70" y2="347.30" stroke="#111" stroke-width="1"/>
<text x="201.00" y="357.30" font-size="9.6" text-anchor="middle" fill="#222" stroke="#2a2a2a" stroke-width="0.18">48</text>
<line x1="210.38" y1="344.2" x2="210.38" y2="345.90" stroke="#111" stroke-width="0.9"/>
<line x1="220.05" y1="344.2" x2="220.05" y2="345.90" stroke="#111" stroke-width="0.9"/>
<line x1="229.73" y1="344.2" x2="229.73" y2="345.90" stroke="#111" stroke-width="0.9"/>
<line x1="239.40" y1="344.2" x2="239.40" y2="347.30" stroke="#111" stroke-width="1"/>
<text x="239.70" y="357.30" font-size="9.6" text-anchor="middle" fill="#222" stroke="#2a2a2a" stroke-width="0.18">60</text>
<line x1="249.08" y1="344.2" x2="249.08" y2="345.90" stroke="#111" stroke-width="0.9"/>
<path d="M40.5,215.2 V344.2 H251.7" fill="none" stroke="#111" stroke-width="1.5"/>
<text x="4" y="222.6" font-size="12" font-weight="bold" fill="#111" stroke="#111" stroke-width="0.45">C</text>
<text x="208" y="229.5" font-size="8.7" textLength="32.3" lengthAdjust="spacingAndGlyphs" fill="#222" stroke="#2a2a2a" stroke-width="0.18"><tspan font-style="italic">P</tspan> <tspan fill="#555" stroke="#666" stroke-width="0.5">=</tspan> 0.17</text>
<text x="112.3" y="370" font-size="11" textLength="75.6" lengthAdjust="spacingAndGlyphs" fill="#222" stroke="#1a1a1a" stroke-width="0.3">Months since diagnosis</text>
<text transform="translate(13,318) rotate(-90)" x="0" y="0" font-size="10.8" textLength="80.6" lengthAdjust="spacingAndGlyphs" fill="#222" stroke="#1a1a1a" stroke-width="0.3">Progression-free survival</text>
<polygon points="47.50,221.00 56.70,234.50 60.50,239.00 66.80,245.30 71.30,248.50 74.50,256.00 76.00,257.50 171.40,257.50 171.40,262.50 246.00,262.50 246.00,302.50 171.40,302.50 171.40,297.50 75.25,297.50 75.25,293.75 71.50,293.75 71.50,287.50 67.75,287.50 67.75,283.75 64.00,283.75 64.00,278.75 61.50,278.75 61.50,276.25 57.75,276.25 57.75,271.25 54.00,271.25 54.00,262.50 50.25,262.50 50.25,255.00 47.50,255.00 47.50,221.00" fill="#c4c1d3" />
<polygon points="47.00,221.00 52.90,224.30 56.70,230.70 59.90,239.60 63.70,242.70 67.50,245.30 71.30,248.50 74.50,252.30 89.00,252.30 92.20,255.40 99.00,256.25 99.00,257.50 170.60,257.50 170.60,258.80 208.30,258.80 208.30,260.20 246.00,260.20 246.00,276.30 208.30,276.30 208.30,273.80 170.60,273.80 170.60,272.30 131.50,272.30 119.00,271.80 100.00,270.00 83.60,268.50 74.70,266.50 64.90,256.00 61.80,251.60 58.00,244.60 54.80,234.50 51.60,228.20 47.50,222.00" fill="rgb(212,95,70)" fill-opacity="0.39"/>
<polyline points="46.50,221.20 49.70,222.40 52.20,226.20 56.10,233.20 58.00,242.70 63.00,249.10 65.60,253.50 68.70,255.40 72.60,258.60 75.70,259.90 89.70,259.90 89.70,261.20 94.00,261.20 94.00,263.30 130.20,263.30 130.20,264.30 169.00,264.30 170.60,265.60 205.60,265.60 207.00,267.40 246.00,267.40" fill="none" stroke="#c8434a" stroke-width="1.3" stroke-linejoin="miter"/>
<polyline points="47.50,221.00 47.50,234.50 50.50,234.50 50.50,237.50 53.00,237.50 53.00,242.00 55.50,242.00 55.50,244.60 57.50,244.60 57.50,249.70 60.00,249.70 60.00,251.60 62.00,251.60 62.00,256.00 64.50,256.00 64.50,259.90 67.00,259.90 67.00,262.50 69.00,262.50 69.00,265.00 71.50,265.00 71.50,271.30 74.50,271.30 74.50,276.30 171.40,276.30 171.40,281.00 246.00,281.00" fill="none" stroke="#3a4c7c" stroke-width="1.3" stroke-linejoin="miter"/>
<line x1="47.6" y1="321.1" x2="60.6" y2="321.1" stroke="#c8434a" stroke-width="1.2"/>
<text x="64.6" y="324.20000000000005" font-size="8.7" textLength="35.5" lengthAdjust="spacingAndGlyphs" fill="#222" stroke="#2a2a2a" stroke-width="0.18">Rituximab</text>
<line x1="47.6" y1="332.8" x2="60.6" y2="332.8" stroke="#3a4c7c" stroke-width="1.2"/>
<text x="64.6" y="335.90000000000003" font-size="8.7" textLength="44.6" lengthAdjust="spacingAndGlyphs" fill="#222" stroke="#2a2a2a" stroke-width="0.18">No rituximab</text>
<text x="30.6" y="373.6" font-size="8.7" font-style="italic" fill="#222" stroke="#2a2a2a" stroke-width="0.18">N</text>
<rect x="30.60" y="377.00" width="5.4" height="5.2" fill="#2b4a80"/>
<text x="46.70" y="383.60" font-size="9.2" text-anchor="middle" fill="#222" stroke="#2a2a2a" stroke-width="0.18">32</text>
<text x="85.90" y="383.60" font-size="9.2" text-anchor="middle" fill="#222" stroke="#2a2a2a" stroke-width="0.18">16</text>
<text x="124.60" y="383.60" font-size="9.2" text-anchor="middle" fill="#222" stroke="#2a2a2a" stroke-width="0.18">15</text>
<text x="163.30" y="383.60" font-size="9.2" text-anchor="middle" fill="#222" stroke="#2a2a2a" stroke-width="0.18">14</text>
<text x="202.00" y="383.60" font-size="9.2" text-anchor="middle" fill="#222" stroke="#2a2a2a" stroke-width="0.18">13</text>
<text x="240.70" y="383.60" font-size="9.2" text-anchor="middle" fill="#222" stroke="#2a2a2a" stroke-width="0.18">12</text>
<rect x="30.60" y="386.80" width="5.4" height="5.2" fill="#c8222c"/>
<text x="46.70" y="393.40" font-size="9.2" text-anchor="middle" fill="#222" stroke="#2a2a2a" stroke-width="0.18">217</text>
<text x="85.90" y="393.40" font-size="9.2" text-anchor="middle" fill="#222" stroke="#2a2a2a" stroke-width="0.18">131</text>
<text x="124.60" y="393.40" font-size="9.2" text-anchor="middle" fill="#222" stroke="#2a2a2a" stroke-width="0.18">106</text>
<text x="163.30" y="393.40" font-size="9.2" text-anchor="middle" fill="#222" stroke="#2a2a2a" stroke-width="0.18">93</text>
<text x="202.00" y="393.40" font-size="9.2" text-anchor="middle" fill="#222" stroke="#2a2a2a" stroke-width="0.18">74</text>
<text x="240.70" y="393.40" font-size="9.2" text-anchor="middle" fill="#222" stroke="#2a2a2a" stroke-width="0.18">51</text>
<line x1="296.30" y1="337.60" x2="299.6" y2="337.60" stroke="#111" stroke-width="1"/>
<line x1="298.00" y1="335.26" x2="299.6" y2="335.26" stroke="#111" stroke-width="0.8"/>
<line x1="298.00" y1="332.92" x2="299.6" y2="332.92" stroke="#111" stroke-width="0.8"/>
<line x1="298.00" y1="330.58" x2="299.6" y2="330.58" stroke="#111" stroke-width="0.8"/>
<line x1="298.00" y1="328.24" x2="299.6" y2="328.24" stroke="#111" stroke-width="0.8"/>
<line x1="296.30" y1="325.90" x2="299.6" y2="325.90" stroke="#111" stroke-width="1"/>
<line x1="298.00" y1="323.56" x2="299.6" y2="323.56" stroke="#111" stroke-width="0.8"/>
<line x1="298.00" y1="321.22" x2="299.6" y2="321.22" stroke="#111" stroke-width="0.8"/>
<line x1="298.00" y1="318.88" x2="299.6" y2="318.88" stroke="#111" stroke-width="0.8"/>
<line x1="298.00" y1="316.54" x2="299.6" y2="316.54" stroke="#111" stroke-width="0.8"/>
<line x1="296.30" y1="314.20" x2="299.6" y2="314.20" stroke="#111" stroke-width="1"/>
<line x1="298.00" y1="311.86" x2="299.6" y2="311.86" stroke="#111" stroke-width="0.8"/>
<line x1="298.00" y1="309.52" x2="299.6" y2="309.52" stroke="#111" stroke-width="0.8"/>
<line x1="298.00" y1="307.18" x2="299.6" y2="307.18" stroke="#111" stroke-width="0.8"/>
<line x1="298.00" y1="304.84" x2="299.6" y2="304.84" stroke="#111" stroke-width="0.8"/>
<line x1="296.30" y1="302.50" x2="299.6" y2="302.50" stroke="#111" stroke-width="1"/>
<line x1="298.00" y1="300.16" x2="299.6" y2="300.16" stroke="#111" stroke-width="0.8"/>
<line x1="298.00" y1="297.82" x2="299.6" y2="297.82" stroke="#111" stroke-width="0.8"/>
<line x1="298.00" y1="295.48" x2="299.6" y2="295.48" stroke="#111" stroke-width="0.8"/>
<line x1="298.00" y1="293.14" x2="299.6" y2="293.14" stroke="#111" stroke-width="0.8"/>
<line x1="296.30" y1="290.80" x2="299.6" y2="290.80" stroke="#111" stroke-width="1"/>
<line x1="298.00" y1="288.46" x2="299.6" y2="288.46" stroke="#111" stroke-width="0.8"/>
<line x1="298.00" y1="286.12" x2="299.6" y2="286.12" stroke="#111" stroke-width="0.8"/>
<line x1="298.00" y1="283.78" x2="299.6" y2="283.78" stroke="#111" stroke-width="0.8"/>
<line x1="298.00" y1="281.44" x2="299.6" y2="281.44" stroke="#111" stroke-width="0.8"/>
<line x1="296.30" y1="279.10" x2="299.6" y2="279.10" stroke="#111" stroke-width="1"/>
<line x1="298.00" y1="276.76" x2="299.6" y2="276.76" stroke="#111" stroke-width="0.8"/>
<line x1="298.00" y1="274.42" x2="299.6" y2="274.42" stroke="#111" stroke-width="0.8"/>
<line x1="298.00" y1="272.08" x2="299.6" y2="272.08" stroke="#111" stroke-width="0.8"/>
<line x1="298.00" y1="269.74" x2="299.6" y2="269.74" stroke="#111" stroke-width="0.8"/>
<line x1="296.30" y1="267.40" x2="299.6" y2="267.40" stroke="#111" stroke-width="1"/>
<line x1="298.00" y1="265.06" x2="299.6" y2="265.06" stroke="#111" stroke-width="0.8"/>
<line x1="298.00" y1="262.72" x2="299.6" y2="262.72" stroke="#111" stroke-width="0.8"/>
<line x1="298.00" y1="260.38" x2="299.6" y2="260.38" stroke="#111" stroke-width="0.8"/>
<line x1="298.00" y1="258.04" x2="299.6" y2="258.04" stroke="#111" stroke-width="0.8"/>
<line x1="296.30" y1="255.70" x2="299.6" y2="255.70" stroke="#111" stroke-width="1"/>
<line x1="298.00" y1="253.36" x2="299.6" y2="253.36" stroke="#111" stroke-width="0.8"/>
<line x1="298.00" y1="251.02" x2="299.6" y2="251.02" stroke="#111" stroke-width="0.8"/>
<line x1="298.00" y1="248.68" x2="299.6" y2="248.68" stroke="#111" stroke-width="0.8"/>
<line x1="298.00" y1="246.34" x2="299.6" y2="246.34" stroke="#111" stroke-width="0.8"/>
<line x1="296.30" y1="244.00" x2="299.6" y2="244.00" stroke="#111" stroke-width="1"/>
<line x1="298.00" y1="241.66" x2="299.6" y2="241.66" stroke="#111" stroke-width="0.8"/>
<line x1="298.00" y1="239.32" x2="299.6" y2="239.32" stroke="#111" stroke-width="0.8"/>
<line x1="298.00" y1="236.98" x2="299.6" y2="236.98" stroke="#111" stroke-width="0.8"/>
<line x1="298.00" y1="234.64" x2="299.6" y2="234.64" stroke="#111" stroke-width="0.8"/>
<line x1="296.30" y1="232.30" x2="299.6" y2="232.30" stroke="#111" stroke-width="1"/>
<line x1="298.00" y1="229.96" x2="299.6" y2="229.96" stroke="#111" stroke-width="0.8"/>
<line x1="298.00" y1="227.62" x2="299.6" y2="227.62" stroke="#111" stroke-width="0.8"/>
<line x1="298.00" y1="225.28" x2="299.6" y2="225.28" stroke="#111" stroke-width="0.8"/>
<line x1="298.00" y1="222.94" x2="299.6" y2="222.94" stroke="#111" stroke-width="0.8"/>
<line x1="296.30" y1="220.60" x2="299.6" y2="220.60" stroke="#111" stroke-width="1"/>
<text x="295.40" y="340.80" font-size="9.7" text-anchor="end" fill="#222" stroke="#2a2a2a" stroke-width="0.18">0.0</text>
<text x="295.40" y="329.10" font-size="9.7" text-anchor="end" fill="#222" stroke="#2a2a2a" stroke-width="0.18">0.1</text>
<text x="295.40" y="317.40" font-size="9.7" text-anchor="end" fill="#222" stroke="#2a2a2a" stroke-width="0.18">0.2</text>
<text x="295.40" y="305.70" font-size="9.7" text-anchor="end" fill="#222" stroke="#2a2a2a" stroke-width="0.18">0.3</text>
<text x="295.40" y="294.00" font-size="9.7" text-anchor="end" fill="#222" stroke="#2a2a2a" stroke-width="0.18">0.4</text>
<text x="295.40" y="282.30" font-size="9.7" text-anchor="end" fill="#222" stroke="#2a2a2a" stroke-width="0.18">0.5</text>
<text x="295.40" y="270.60" font-size="9.7" text-anchor="end" fill="#222" stroke="#2a2a2a" stroke-width="0.18">0.6</text>
<text x="295.40" y="258.90" font-size="9.7" text-anchor="end" fill="#222" stroke="#2a2a2a" stroke-width="0.18">0.7</text>
<text x="295.40" y="247.20" font-size="9.7" text-anchor="end" fill="#222" stroke="#2a2a2a" stroke-width="0.18">0.8</text>
<text x="295.40" y="235.50" font-size="9.7" text-anchor="end" fill="#222" stroke="#2a2a2a" stroke-width="0.18">0.9</text>
<text x="295.40" y="223.80" font-size="9.7" text-anchor="end" fill="#222" stroke="#2a2a2a" stroke-width="0.18">1.0</text>
<line x1="305.40" y1="343.8" x2="305.40" y2="346.90" stroke="#111" stroke-width="1"/>
<text x="305.70" y="356.40" font-size="9.6" text-anchor="middle" fill="#222" stroke="#2a2a2a" stroke-width="0.18">0</text>
<line x1="315.08" y1="343.8" x2="315.08" y2="345.50" stroke="#111" stroke-width="0.9"/>
<line x1="324.76" y1="343.8" x2="324.76" y2="345.50" stroke="#111" stroke-width="0.9"/>
<line x1="334.44" y1="343.8" x2="334.44" y2="345.50" stroke="#111" stroke-width="0.9"/>
<line x1="344.12" y1="343.8" x2="344.12" y2="346.90" stroke="#111" stroke-width="1"/>
<text x="344.42" y="356.40" font-size="9.6" text-anchor="middle" fill="#222" stroke="#2a2a2a" stroke-width="0.18">12</text>
<line x1="353.80" y1="343.8" x2="353.80" y2="345.50" stroke="#111" stroke-width="0.9"/>
<line x1="363.49" y1="343.8" x2="363.49" y2="345.50" stroke="#111" stroke-width="0.9"/>
<line x1="373.17" y1="343.8" x2="373.17" y2="345.50" stroke="#111" stroke-width="0.9"/>
<line x1="382.85" y1="343.8" x2="382.85" y2="346.90" stroke="#111" stroke-width="1"/>
<text x="383.15" y="356.40" font-size="9.6" text-anchor="middle" fill="#222" stroke="#2a2a2a" stroke-width="0.18">24</text>
<line x1="392.53" y1="343.8" x2="392.53" y2="345.50" stroke="#111" stroke-width="0.9"/>
<line x1="402.21" y1="343.8" x2="402.21" y2="345.50" stroke="#111" stroke-width="0.9"/>
<line x1="411.89" y1="343.8" x2="411.89" y2="345.50" stroke="#111" stroke-width="0.9"/>
<line x1="421.57" y1="343.8" x2="421.57" y2="346.90" stroke="#111" stroke-width="1"/>
<text x="421.87" y="356.40" font-size="9.6" text-anchor="middle" fill="#222" stroke="#2a2a2a" stroke-width="0.18">36</text>
<line x1="431.25" y1="343.8" x2="431.25" y2="345.50" stroke="#111" stroke-width="0.9"/>
<line x1="440.93" y1="343.8" x2="440.93" y2="345.50" stroke="#111" stroke-width="0.9"/>
<line x1="450.62" y1="343.8" x2="450.62" y2="345.50" stroke="#111" stroke-width="0.9"/>
<line x1="460.30" y1="343.8" x2="460.30" y2="346.90" stroke="#111" stroke-width="1"/>
<text x="460.60" y="356.40" font-size="9.6" text-anchor="middle" fill="#222" stroke="#2a2a2a" stroke-width="0.18">48</text>
<line x1="469.98" y1="343.8" x2="469.98" y2="345.50" stroke="#111" stroke-width="0.9"/>
<line x1="479.66" y1="343.8" x2="479.66" y2="345.50" stroke="#111" stroke-width="0.9"/>
<line x1="489.34" y1="343.8" x2="489.34" y2="345.50" stroke="#111" stroke-width="0.9"/>
<line x1="499.02" y1="343.8" x2="499.02" y2="346.90" stroke="#111" stroke-width="1"/>
<text x="499.32" y="356.40" font-size="9.6" text-anchor="middle" fill="#222" stroke="#2a2a2a" stroke-width="0.18">60</text>
<line x1="508.70" y1="343.8" x2="508.70" y2="345.50" stroke="#111" stroke-width="0.9"/>
<path d="M299.6,214.7 V343.8 H510.8" fill="none" stroke="#111" stroke-width="1.5"/>
<text x="263.6" y="222.6" font-size="12" font-weight="bold" fill="#111" stroke="#111" stroke-width="0.45">D</text>
<text x="467" y="229" font-size="8.7" textLength="32.3" lengthAdjust="spacingAndGlyphs" fill="#222" stroke="#2a2a2a" stroke-width="0.18"><tspan font-style="italic">P</tspan> <tspan fill="#555" stroke="#666" stroke-width="0.5">=</tspan> 0.41</text>
<text x="373.1" y="370" font-size="11" textLength="75.6" lengthAdjust="spacingAndGlyphs" fill="#222" stroke="#1a1a1a" stroke-width="0.3">Months since diagnosis</text>
<text transform="translate(274.6,297.9) rotate(-90)" x="0" y="0" font-size="10.8" textLength="49.3" lengthAdjust="spacingAndGlyphs" fill="#222" stroke="#1a1a1a" stroke-width="0.3">Overall survival</text>
<polygon points="306.50,220.40 311.20,227.50 315.80,231.00 319.30,237.90 325.10,243.70 331.40,247.70 335.00,248.20 430.60,248.20 430.60,251.30 505.20,251.30 505.20,291.20 430.60,291.20 430.60,286.30 334.70,286.30 334.70,282.30 330.70,282.30 330.70,278.40 324.80,278.40 324.80,274.40 320.80,274.40 320.80,268.50 317.80,268.50 317.80,264.50 314.90,264.50 314.90,258.60 309.90,258.60 309.90,248.70 306.50,248.70 306.50,220.40" fill="#c4c1d3" />
<polygon points="306.50,220.00 311.20,221.20 317.00,225.80 319.90,231.00 326.80,239.10 332.00,243.70 338.90,244.80 345.30,247.80 349.20,249.20 363.10,250.80 372.30,251.50 393.80,252.60 407.70,253.80 430.70,254.30 465.00,254.30 465.00,255.90 505.20,255.90 505.20,272.00 465.00,272.00 465.00,270.00 430.70,270.00 430.70,269.40 406.20,267.70 406.20,266.20 392.30,266.20 392.30,264.60 370.80,264.60 370.80,263.10 352.30,263.10 347.70,261.50 340.00,257.00 336.60,255.80 330.80,252.90 325.10,247.10 319.30,237.90 313.50,228.70 306.50,221.00" fill="rgb(212,95,70)" fill-opacity="0.39"/>
<polyline points="306.00,220.40 310.10,222.90 313.50,224.10 316.40,227.50 319.30,235.00 325.10,242.00 331.40,248.90 336.60,250.00 340.00,250.80 344.60,253.50 350.80,256.20 362.30,256.20 362.30,256.90 371.50,256.90 371.50,258.00 393.10,258.00 393.10,258.50 397.70,258.50 397.70,259.50 406.90,259.50 406.90,260.30 426.00,260.30 430.70,261.60 465.00,261.60 465.00,263.40 505.20,263.40" fill="none" stroke="#c8434a" stroke-width="1.3" stroke-linejoin="miter"/>
<polyline points="306.50,220.40 306.50,234.50 310.10,234.50 310.10,237.90 314.10,237.90 314.10,240.20 316.40,240.20 316.40,244.30 318.70,244.30 318.70,249.40 321.00,249.40 321.00,252.30 323.90,252.30 323.90,256.40 330.80,256.40 330.80,259.80 334.50,259.80 334.50,264.40 430.60,264.40 430.60,269.10 505.20,269.10" fill="none" stroke="#3a4c7c" stroke-width="1.3" stroke-linejoin="miter"/>
<line x1="307.1" y1="320.6" x2="320.1" y2="320.6" stroke="#c8434a" stroke-width="1.2"/>
<text x="324.1" y="323.70000000000005" font-size="8.7" textLength="35.5" lengthAdjust="spacingAndGlyphs" fill="#222" stroke="#2a2a2a" stroke-width="0.18">Rituximab</text>
<line x1="307.1" y1="332.20000000000005" x2="320.1" y2="332.20000000000005" stroke="#3a4c7c" stroke-width="1.2"/>
<text x="324.1" y="335.30000000000007" font-size="8.7" textLength="44.6" lengthAdjust="spacingAndGlyphs" fill="#222" stroke="#2a2a2a" stroke-width="0.18">No rituximab</text>
<text x="290.2" y="373.6" font-size="8.7" font-style="italic" fill="#222" stroke="#2a2a2a" stroke-width="0.18">N</text>
<rect x="290.00" y="376.80" width="5.4" height="5.2" fill="#2b4a80"/>
<text x="306.00" y="383.20" font-size="9.2" text-anchor="middle" fill="#222" stroke="#2a2a2a" stroke-width="0.18">32</text>
<text x="345.42" y="383.20" font-size="9.2" text-anchor="middle" fill="#222" stroke="#2a2a2a" stroke-width="0.18">19</text>
<text x="384.15" y="383.20" font-size="9.2" text-anchor="middle" fill="#222" stroke="#2a2a2a" stroke-width="0.18">18</text>
<text x="422.87" y="383.20" font-size="9.2" text-anchor="middle" fill="#222" stroke="#2a2a2a" stroke-width="0.18">17</text>
<text x="461.60" y="383.20" font-size="9.2" text-anchor="middle" fill="#222" stroke="#2a2a2a" stroke-width="0.18">16</text>
<text x="500.32" y="383.20" font-size="9.2" text-anchor="middle" fill="#222" stroke="#2a2a2a" stroke-width="0.18">15</text>
<rect x="290.00" y="386.60" width="5.4" height="5.2" fill="#c8222c"/>
<text x="306.00" y="393.00" font-size="9.2" text-anchor="middle" fill="#222" stroke="#2a2a2a" stroke-width="0.18">217</text>
<text x="345.42" y="393.00" font-size="9.2" text-anchor="middle" fill="#222" stroke="#2a2a2a" stroke-width="0.18">141</text>
<text x="384.15" y="393.00" font-size="9.2" text-anchor="middle" fill="#222" stroke="#2a2a2a" stroke-width="0.18">113</text>
<text x="422.87" y="393.00" font-size="9.2" text-anchor="middle" fill="#222" stroke="#2a2a2a" stroke-width="0.18">97</text>
<text x="461.60" y="393.00" font-size="9.2" text-anchor="middle" fill="#222" stroke="#2a2a2a" stroke-width="0.18">77</text>
<text x="500.32" y="393.00" font-size="9.2" text-anchor="middle" fill="#222" stroke="#2a2a2a" stroke-width="0.18">54</text>
<rect x="0" y="0" width="520" height="1.1" fill="#000"/><rect x="0" y="0" width="1.3" height="404" fill="#000"/><rect x="518.1" y="0" width="1.9" height="404" fill="#000"/><rect x="0" y="402.1" width="520" height="1.9" fill="#000"/>
</svg></body></html>
